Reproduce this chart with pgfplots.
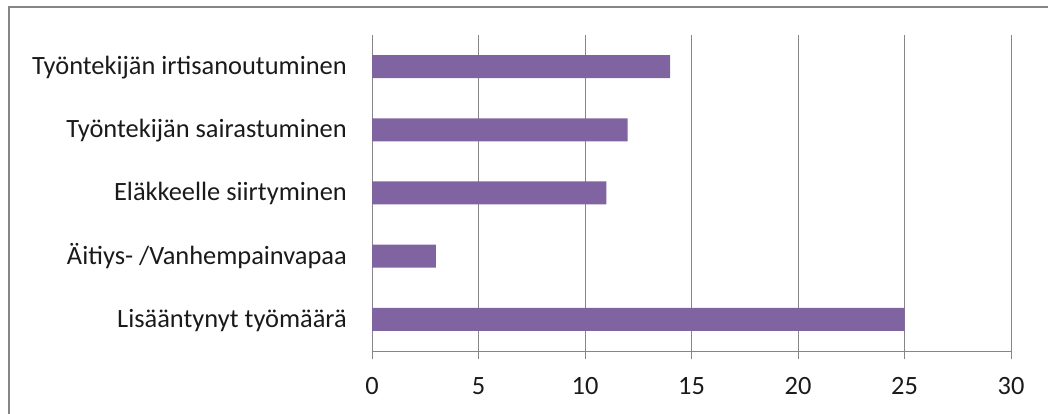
\documentclass[border=0pt]{standalone}
\usepackage{pgfplots}
\pgfplotsset{compat=1.18}
\usepackage{fontspec}
\setmainfont{Carlito}
\definecolor{barpurple}{HTML}{8064A2}
\definecolor{linegray}{HTML}{868686}
\definecolor{txt}{HTML}{1A1A1A}
\begin{document}
\begin{tikzpicture}
\useasboundingbox (0,0) rectangle (1048bp,414bp);
% chart frame (right and bottom edges lie outside the picture)
\draw[linegray, line width=2bp] (9.3bp,-20bp) |- (1070bp,406.7bp);
\begin{axis}[
  at={(372bp,63bp)}, anchor=south west,
  scale only axis,
  width=639bp, height=316bp,
  xmin=0, xmax=30,
  ymin=-0.5, ymax=4.5,
  axis x line=bottom, axis y line=left,
  axis line style={-, linegray, line width=1bp},
  xtick={0,5,...,30},
  ytick={0,1,2,3,4},
  yticklabels={Lisääntynyt työmäärä, Äitiys- /Vanhempainvapaa, Eläkkeelle siirtyminen, Työntekijän sairastuminen, Työntekijän irtisanoutuminen},
  xmajorgrids,
  grid style={linegray, line width=1bp},
  tick align=outside,
  major tick length=8bp,
  xtick style={linegray, line width=1bp},
  ytick style={draw=none},
  tick label style={font=\fontsize{26.5}{31}\selectfont, text=txt, inner sep=0pt},
  xticklabel style={anchor=base, yshift=-35bp},
  yticklabel style={anchor=base east, xshift=-17bp, yshift=-8bp},
  /pgf/number format/assume math mode=true,
]
\addplot[xbar, bar width=23bp, fill=barpurple, draw=none] coordinates {
  (25,0) (3,1) (11,2) (12,3) (14,4)
};
\end{axis}
\end{tikzpicture}
\end{document}
